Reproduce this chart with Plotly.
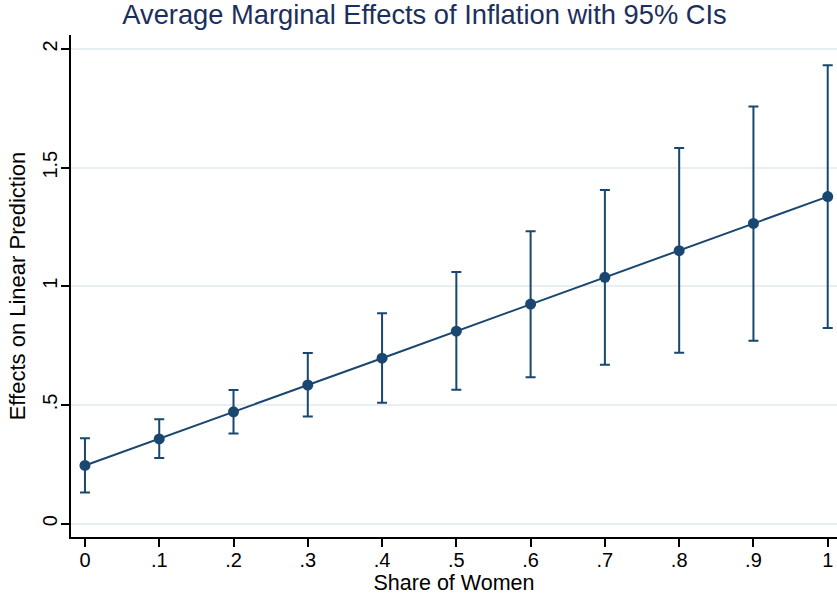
import plotly.graph_objects as go

share = [0, 0.1, 0.2, 0.3, 0.4, 0.5, 0.6, 0.7, 0.8, 0.9, 1.0]
effect = [0.245, 0.357, 0.471, 0.584, 0.697, 0.811, 0.925, 1.038, 1.150, 1.265, 1.378]
ci_low = [0.131, 0.276, 0.380, 0.451, 0.509, 0.564, 0.617, 0.669, 0.720, 0.770, 0.824]
ci_high = [0.360, 0.440, 0.563, 0.719, 0.886, 1.060, 1.232, 1.406, 1.583, 1.758, 1.932]

x_ticks = [0, 0.1, 0.2, 0.3, 0.4, 0.5, 0.6, 0.7, 0.8, 0.9, 1.0]
x_labels = ["0", ".1", ".2", ".3", ".4", ".5", ".6", ".7", ".8", ".9", "1"]
y_ticks = [0, 0.5, 1, 1.5, 2]
y_labels = ["0", ".5", "1", "1.5", "2"]

navy = "#1a476f"
font = "Liberation Sans, Arial, Helvetica, sans-serif"

err_plus = [h - e for h, e in zip(ci_high, effect)]
err_minus = [e - l for e, l in zip(effect, ci_low)]

fig = go.Figure()
fig.add_trace(go.Scatter(
    x=share, y=effect, mode="lines+markers",
    line=dict(color=navy, width=2),
    marker=dict(color=navy, size=11),
    error_y=dict(type="data", symmetric=False, array=err_plus, arrayminus=err_minus,
                 color=navy, thickness=2, width=5),
    showlegend=False,
))

fig.update_layout(
    width=837, height=599,
    margin=dict(l=71, r=0, t=35, b=62),
    paper_bgcolor="white", plot_bgcolor="white",
    font=dict(family=font, color="black", size=20),
    title=dict(text="Average Marginal Effects of Inflation with 95% CIs",
               font=dict(family=font, size=27.3, color="#1c2f5c"),
               x=424.5/837, xanchor="center", y=1-14/599, yanchor="middle"),
    xaxis=dict(range=[-0.0188, 1.0125], tickvals=x_ticks, ticktext=x_labels,
               showgrid=False, zeroline=False, showline=True, linecolor="black", linewidth=1.5,
               ticks="outside", ticklen=8, tickwidth=1.5, tickcolor="black",
               tickfont=dict(size=20), ticklabelstandoff=-4,
               title=dict(text="Share of Women", font=dict(size=21.5), standoff=0)),
    yaxis=dict(range=[-0.0565, 2.059], tickvals=y_ticks, ticktext=y_labels,
               showgrid=True, gridcolor="#e8eff3", gridwidth=1.5, zeroline=False,
               showline=True, linecolor="black", linewidth=1.5,
               ticks="outside", ticklen=8, tickwidth=1.5, tickcolor="black",
               tickangle=-90, tickfont=dict(size=20), ticklabelstandoff=-4,
               title=dict(text="Effects on Linear Prediction", font=dict(size=22), standoff=8)),
)

fig.write_html("out.html")
